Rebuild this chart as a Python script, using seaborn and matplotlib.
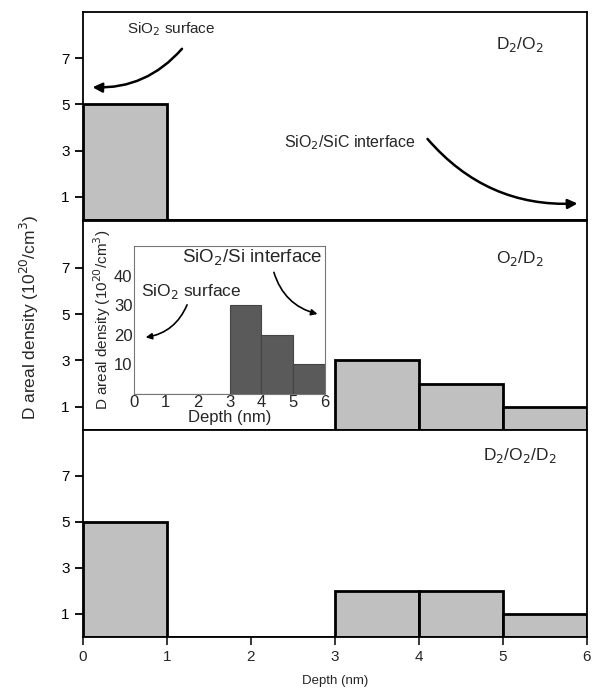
import numpy as np
import pandas as pd
import matplotlib
matplotlib.use("Agg")
import matplotlib.pyplot as plt
import seaborn as sns

# depth bins (nm) and D areal density per bin (10^20 /cm^3)
bin_edges = [0, 1, 2, 3, 4, 5, 6]
bin_mid = [0.5, 1.5, 2.5, 3.5, 4.5, 5.5]
d2o2 = [5, 0, 0, 0, 0, 0]
o2d2 = [0, 0, 0, 3, 2, 1]
d2o2d2 = [5, 0, 0, 2, 2, 1]
panel_labels = ["D$_2$/O$_2$", "O$_2$/D$_2$", "D$_2$/O$_2$/D$_2$"]

# inset: SiO2/Si reference
inset_mid = [3.5, 4.5, 5.5]
inset_density = [30, 20, 10]

sns.set_style("ticks")
plt.rcParams["font.family"] = ["Liberation Sans", "DejaVu Sans"]

fig = plt.figure(figsize=(5.95, 6.98), dpi=100)
left, width = 0.1395, 0.847
bottoms = [0.6848, 0.384, 0.0874]
heights = [0.298, 0.299, 0.2966]
label_y = [7.6, 7.4, 7.9]

axes = []
for i, (series, lab) in enumerate(zip([d2o2, o2d2, d2o2d2], panel_labels)):
    ax = fig.add_axes([left, bottoms[i], width, heights[i]])
    df = pd.DataFrame({"depth": bin_mid, "density": series})
    df = df[df["density"] > 0]
    sns.histplot(data=df, x="depth", weights="density", bins=bin_edges, ax=ax,
                 color="#c0c0c0", alpha=1, edgecolor="black", linewidth=2)
    ax.set_xlim(0, 6)
    ax.set_ylim(0, 9)
    ax.set_yticks([1, 3, 5, 7])
    ax.set_ylabel("")
    ax.set_xlabel("")
    for s in ax.spines.values():
        s.set_visible(True)
        s.set_linewidth(1.3)
        s.set_color("black")
    ax.tick_params(axis="y", direction="out", length=6, width=1.3, labelsize=11, colors="black")
    if i < 2:
        ax.tick_params(axis="x", bottom=False, labelbottom=False)
    else:
        ax.tick_params(axis="x", direction="out", length=6, width=1.3, labelsize=11)
        ax.set_xticks(range(7))
        ax.set_xlabel("Depth (nm)", fontsize=9.5, labelpad=8)
    ax.text(5.2, label_y[i], lab, ha="center", va="center", fontsize=12.5)
    axes.append(ax)

# annotations on top panel
ax0 = axes[0]
ax0.annotate("", xy=(0.08, 5.75), xytext=(1.2, 7.5),
             arrowprops=dict(arrowstyle="-|>", color="black", lw=1.8, mutation_scale=14,
                             connectionstyle="arc3,rad=-0.25"))
ax0.text(1.05, 8.25, "SiO$_2$ surface", ha="center", va="center", fontsize=11)
ax0.text(3.18, 3.35, "SiO$_2$/SiC interface", ha="center", va="center", fontsize=11.5)
ax0.annotate("", xy=(5.92, 0.72), xytext=(4.08, 3.6),
             arrowprops=dict(arrowstyle="-|>", color="black", lw=1.8, mutation_scale=14,
                             connectionstyle="arc3,rad=0.25"))

fig.text(0.05, 0.545, "D areal density (10$^{20}$/cm$^3$)", rotation=90,
         ha="center", va="center", fontsize=12.5)

# inset
axi = fig.add_axes([134 / 595, 1 - 394 / 698, 191 / 595, 148 / 698])
dfi = pd.DataFrame({"depth": inset_mid, "density": inset_density})
sns.histplot(data=dfi, x="depth", weights="density", bins=bin_edges, ax=axi,
             color="#5a5a5a", alpha=1, edgecolor="#444444", linewidth=0.8)
axi.set_xlim(0, 6)
axi.set_ylim(0, 50)
axi.set_yticks([10, 20, 30, 40])
axi.set_xticks(range(7))
for s in axi.spines.values():
    s.set_visible(True)
    s.set_linewidth(0.8)
    s.set_color("#777777")
axi.tick_params(length=0, pad=1, labelsize=12)
axi.set_xlabel("Depth (nm)", fontsize=12, labelpad=0)
axi.set_ylabel("D areal density (10$^{20}$/cm$^3$)", fontsize=11, labelpad=1)
axi.text(3.7, 46, "SiO$_2$/Si interface", ha="center", va="center", fontsize=13.5)
axi.text(1.8, 34.5, "SiO$_2$ surface", ha="center", va="center", fontsize=12.5)
axi.annotate("", xy=(0.28, 19), xytext=(1.7, 31),
             arrowprops=dict(arrowstyle="-|>", color="black", lw=1.2, mutation_scale=9,
                             connectionstyle="arc3,rad=-0.3"))
axi.annotate("", xy=(5.85, 26.8), xytext=(4.37, 42),
             arrowprops=dict(arrowstyle="-|>", color="black", lw=1.2, mutation_scale=9,
                             connectionstyle="arc3,rad=0.3"))

fig.savefig("out.png", dpi=100)
